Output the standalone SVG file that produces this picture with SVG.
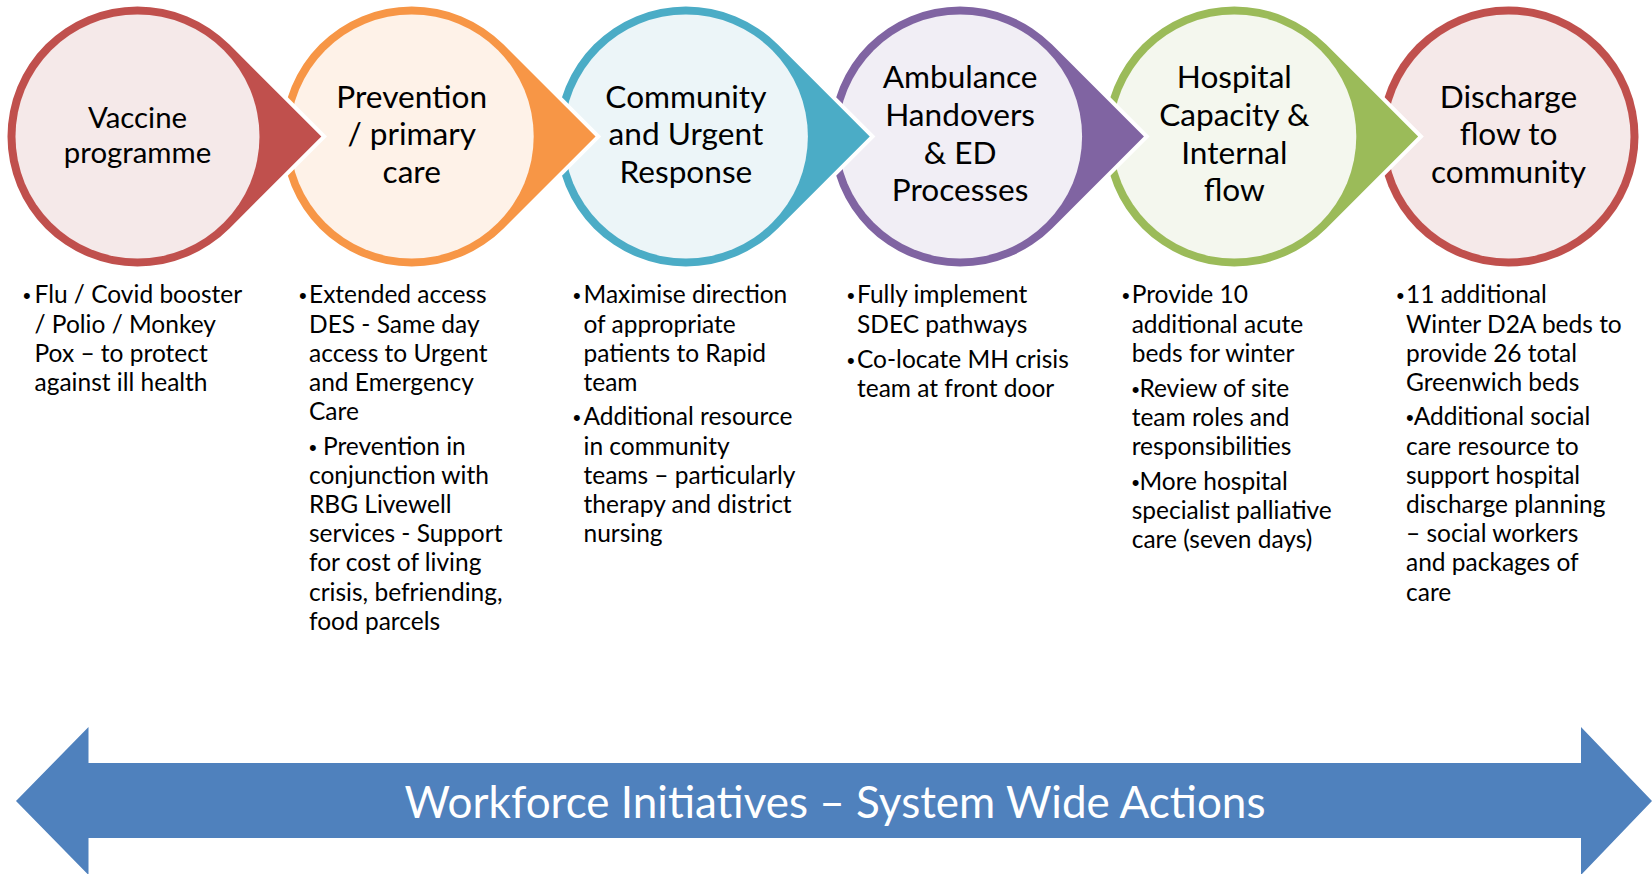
<svg xmlns="http://www.w3.org/2000/svg" width="1652" height="874" viewBox="0 0 1652 874">
  <style>
    .ring { stroke: #ffffff; stroke-width: 8; paint-order: stroke; }
    .lbl { font-family: Lato, "Open Sans", "Liberation Sans", sans-serif; font-size: 31.6px; fill: #000; text-anchor: middle; }
    .lbl-s { font-size: 29.4px; }
    .body { font-family: Lato, "Open Sans", "Liberation Sans", sans-serif; font-size: 24.5px; fill: #000; }
    .dot { font-family: "Liberation Sans", sans-serif; font-size: 22px; }
    .banner { font-family: Lato, "Open Sans", "Liberation Sans", sans-serif; font-size: 44px; fill: #ffffff; text-anchor: middle; }
  </style>
  <defs>
    <!-- teardrop: circle r=130 with a 45-degree point to the right, centred on 0,0 -->
    <path id="drop" d="M 91.92 -91.92 L 183.85 0 L 91.92 91.92 A 130 130 0 1 1 91.92 -91.92 Z"/>
  </defs>
  <rect width="1652" height="874" fill="#ffffff"/>

  <!-- stages drawn right to left so each point sits over the next circle -->
  <g id="stage-discharge" transform="translate(1508.5,136.5)">
    <circle r="130" fill="#C0504D" class="ring"/>
    <circle r="122" fill="#F5E9E9"/>
    <text class="lbl" x="0" y="-29">Discharge</text>
    <text class="lbl" x="0" y="8.6">flow to</text>
    <text class="lbl" x="0" y="46.2">community</text>
  </g>
  <g id="stage-hospital" transform="translate(1234.3,136.5)">
    <use href="#drop" fill="#9BBB59" class="ring"/>
    <circle r="122" fill="#F4F7EE"/>
    <text class="lbl" x="0" y="-48.2">Hospital</text>
    <text class="lbl" x="0" y="-10.6">Capacity &amp;</text>
    <text class="lbl" x="0" y="27">Internal</text>
    <text class="lbl" x="0" y="64.6">flow</text>
  </g>
  <g id="stage-ambulance" transform="translate(960.1,136.5)">
    <use href="#drop" fill="#8064A2" class="ring"/>
    <circle r="122" fill="#F1EEF5"/>
    <text class="lbl" x="0" y="-48.2">Ambulance</text>
    <text class="lbl" x="0" y="-10.6">Handovers</text>
    <text class="lbl" x="0" y="27">&amp; ED</text>
    <text class="lbl" x="0" y="64.6">Processes</text>
  </g>
  <g id="stage-community" transform="translate(685.9,136.5)">
    <use href="#drop" fill="#4BACC6" class="ring"/>
    <circle r="122" fill="#ECF5F8"/>
    <text class="lbl" x="0" y="-29">Community</text>
    <text class="lbl" x="0" y="8.6">and Urgent</text>
    <text class="lbl" x="0" y="46.2">Response</text>
  </g>
  <g id="stage-prevention" transform="translate(411.7,136.5)">
    <use href="#drop" fill="#F79646" class="ring"/>
    <circle r="122" fill="#FEF2E8"/>
    <text class="lbl" x="0" y="-29">Prevention</text>
    <text class="lbl" x="0" y="8.6">/ primary</text>
    <text class="lbl" x="0" y="46.2">care</text>
  </g>
  <g id="stage-vaccine" transform="translate(137.5,136.5)">
    <use href="#drop" fill="#C0504D" class="ring"/>
    <circle r="122" fill="#F5E9E9"/>
    <text class="lbl lbl-s" x="0" y="-8.5">Vaccine</text>
    <text class="lbl lbl-s" x="0" y="26.5">programme</text>
  </g>

  <!-- action lists under each stage -->
  <g id="actions-vaccine" class="body">
    <text class="dot" x="23" y="303.3">•</text>
    <text x="34.5" y="303.3">Flu / Covid booster</text>
    <text x="34.5" y="332.5">/ Polio / Monkey</text>
    <text x="34.5" y="361.7">Pox – to protect</text>
    <text x="34.5" y="390.9">against ill health</text>
  </g>
  <g id="actions-prevention" class="body">
    <text class="dot" x="299" y="303.3">•</text>
    <text x="309" y="303.3">Extended access</text>
    <text x="309" y="332.5">DES - Same day</text>
    <text x="309" y="361.7">access to Urgent</text>
    <text x="309" y="390.9">and Emergency</text>
    <text x="309" y="420.1">Care</text>
    <text x="309" y="454.5"><tspan class="dot">•</tspan> Prevention in</text>
    <text x="309" y="483.7">conjunction with</text>
    <text x="309" y="512.9">RBG Livewell</text>
    <text x="309" y="542.1">services - Support</text>
    <text x="309" y="571.3">for cost of living</text>
    <text x="309" y="600.5">crisis, befriending,</text>
    <text x="309" y="629.7">food parcels</text>
  </g>
  <g id="actions-community" class="body">
    <text class="dot" x="573" y="303.3">•</text>
    <text x="583.5" y="303.3">Maximise direction</text>
    <text x="583.5" y="332.5">of appropriate</text>
    <text x="583.5" y="361.7">patients to Rapid</text>
    <text x="583.5" y="390.9">team</text>
    <text class="dot" x="573" y="425.3">•</text>
    <text x="583.5" y="425.3">Additional resource</text>
    <text x="583.5" y="454.5">in community</text>
    <text x="583.5" y="483.7">teams – particularly</text>
    <text x="583.5" y="512.9">therapy and district</text>
    <text x="583.5" y="542.1">nursing</text>
  </g>
  <g id="actions-ambulance" class="body">
    <text class="dot" x="847" y="303.3">•</text>
    <text x="857" y="303.3">Fully implement</text>
    <text x="857" y="332.5">SDEC pathways</text>
    <text class="dot" x="847" y="367.5">•</text>
    <text x="857" y="367.5">Co-locate MH crisis</text>
    <text x="857" y="396.7">team at front door</text>
  </g>
  <g id="actions-hospital" class="body">
    <text class="dot" x="1122" y="303.3">•</text>
    <text x="1131.7" y="303.3">Provide 10</text>
    <text x="1131.7" y="332.5">additional acute</text>
    <text x="1131.7" y="361.7">beds for winter</text>
    <text x="1131.7" y="396.7"><tspan class="dot">•</tspan>Review of site</text>
    <text x="1131.7" y="425.9">team roles and</text>
    <text x="1131.7" y="455.1">responsibilities</text>
    <text x="1131.7" y="489.5"><tspan class="dot">•</tspan>More hospital</text>
    <text x="1131.7" y="518.7">specialist palliative</text>
    <text x="1131.7" y="547.9">care (seven days)</text>
  </g>
  <g id="actions-discharge" class="body">
    <text class="dot" x="1396.5" y="303.3">•</text>
    <text x="1406" y="303.3">11 additional</text>
    <text x="1406" y="332.5">Winter D2A beds to</text>
    <text x="1406" y="361.7">provide 26 total</text>
    <text x="1406" y="390.9">Greenwich beds</text>
    <text x="1406" y="425.3"><tspan class="dot">•</tspan>Additional social</text>
    <text x="1406" y="454.5">care resource to</text>
    <text x="1406" y="483.7">support hospital</text>
    <text x="1406" y="512.9">discharge planning</text>
    <text x="1406" y="542.1">– social workers</text>
    <text x="1406" y="571.3">and packages of</text>
    <text x="1406" y="600.5">care</text>
  </g>

  <!-- double-headed banner arrow along the bottom -->
  <g id="connectors">
    <polygon points="16,801 88.5,727 88.5,763 1581,763 1581,727 1652,801 1581,875 1581,838 88.5,838 88.5,875" fill="#4F81BD"/>
  </g>
  <g id="banner">
    <text class="banner" x="835" y="818">Workforce Initiatives – System Wide Actions</text>
  </g>
</svg>
